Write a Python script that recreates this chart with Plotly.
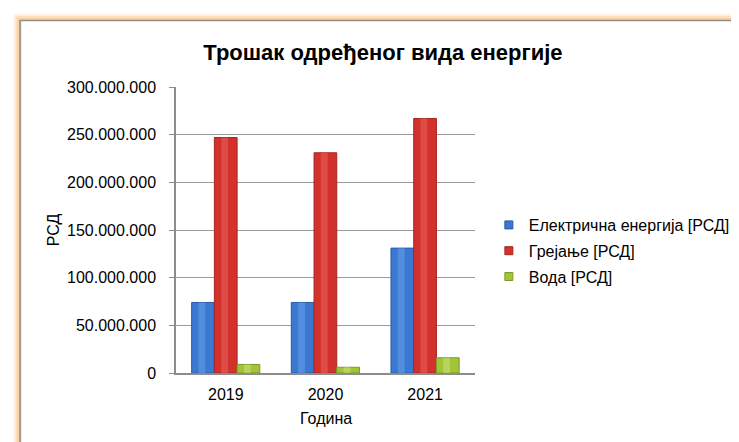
import plotly.graph_objects as go

years = ["2019", "2020", "2021"]
struja = [74_000_000, 74_000_000, 131_000_000]
grejanje = [247_000_000, 231_000_000, 267_000_000]
voda = [9_000_000, 6_000_000, 16_000_000]
series_names = ["Електрична енергија [РСД]", "Грејање [РСД]", "Вода [РСД]"]
y_ticks = [0, 50_000_000, 100_000_000, 150_000_000, 200_000_000, 250_000_000, 300_000_000]

W, H = 739, 442
L, R, T, B = 168, 470, 79, 365  # plot area in pixels


def px(x):
    return (x - L) / (R - L)


def py(y):
    return (B - y) / (B - T)


FONT = "Liberation Sans, Arial, sans-serif"
base_cols = ["#3a78d2", "#d3322c", "#a2c43b"]
edge_cols = ["#2a5aa6", "#a72420", "#7c9a25"]
hi_cols = ["#74a8ee", "#ee6d64", "#d2e982"]
bw = 0.228
offsets = [-0.343, -0.115, 0.113]

fig = go.Figure()
for vals, name, c, e, h, off in zip([struja, grejanje, voda], series_names,
                                     base_cols, edge_cols, hi_cols, offsets):
    fig.add_trace(go.Bar(x=years, y=vals, name=name, width=bw, offset=off,
                         marker=dict(color=c, line=dict(color=e, width=1)),
                         showlegend=False, legendgroup=name))
    fig.add_trace(go.Bar(x=years, y=vals, width=bw * 0.3, offset=off + bw * 0.3,
                         marker=dict(color=h, opacity=0.45, line=dict(width=0)),
                         showlegend=False, hoverinfo="skip", legendgroup=name))
    fig.add_trace(go.Scatter(x=[None], y=[None], mode="markers", name=name,
                             marker=dict(symbol="square", size=8, color=c,
                                         line=dict(color=e, width=1)),
                             legendgroup=name))

shapes = []
# orange glow of the chart frame
for w, col in [(12, "rgba(253,215,165,0.35)"), (8, "rgba(252,205,150,0.45)"),
               (4, "rgba(250,195,130,0.55)")]:
    shapes.append(dict(type="rect", xref="paper", yref="paper",
                       x0=px(10), x1=px(800), y0=py(500), y1=py(12),
                       line=dict(color=col, width=w), fillcolor="rgba(0,0,0,0)",
                       layer="below"))
shapes.append(dict(type="rect", xref="paper", yref="paper",
                   x0=px(12), x1=px(800), y0=py(500), y1=py(13),
                   line=dict(width=0), fillcolor="white", layer="below"))
shapes.append(dict(type="rect", xref="paper", yref="paper",
                   x0=px(10.5), x1=px(800), y0=py(500), y1=py(12.5),
                   line=dict(color="#8f8f8f", width=1.5), fillcolor="rgba(0,0,0,0)",
                   layer="below"))

fig.update_layout(
    width=W, height=H,
    margin=dict(l=L, r=W - R, t=T, b=H - B, pad=0),
    paper_bgcolor="white", plot_bgcolor="white",
    separators=",.",
    barmode="overlay",
    font=dict(family=FONT, size=16, color="#000000"),
    title=dict(text="<b>Трошак одређеног вида енергије</b>",
               font=dict(family=FONT, size=22, color="#000000"),
               x=px(377), xref="paper", xanchor="center",
               y=1 - 44 / H, yref="container", yanchor="middle"),
    showlegend=True,
    legend=dict(x=px(484), y=py(243), xanchor="left", yanchor="middle",
                font=dict(family=FONT, size=16, color="#000000"),
                bgcolor="rgba(0,0,0,0)", itemwidth=30, tracegroupgap=2),
    shapes=shapes,
    annotations=[
        dict(text="Година", xref="paper", yref="paper", x=px(320), y=py(410),
             showarrow=False, font=dict(family=FONT, size=16),
             xanchor="center", yanchor="middle"),
        dict(text="РСД", xref="paper", yref="paper", x=px(44), y=0.5,
             showarrow=False, textangle=-90, font=dict(family=FONT, size=16),
             xanchor="center", yanchor="middle"),
    ],
)
fig.update_xaxes(type="category", range=[-0.5, 2.5], showgrid=False,
                 showline=True, linecolor="#8c8c8c", linewidth=1.5,
                 ticks="", tickfont=dict(family=FONT, size=16), ticklabelstandoff=6)
fig.update_yaxes(range=[0, 300_000_000], tickvals=y_ticks, tickformat=",d",
                 showgrid=True, gridcolor="#9a9a9a", gridwidth=1,
                 showline=True, linecolor="#8c8c8c", linewidth=1.5,
                 ticks="outside", ticklen=5, tickcolor="#8c8c8c",
                 tickfont=dict(family=FONT, size=16), ticklabelstandoff=10,
                 zeroline=False)

fig.write_html("out.html")
